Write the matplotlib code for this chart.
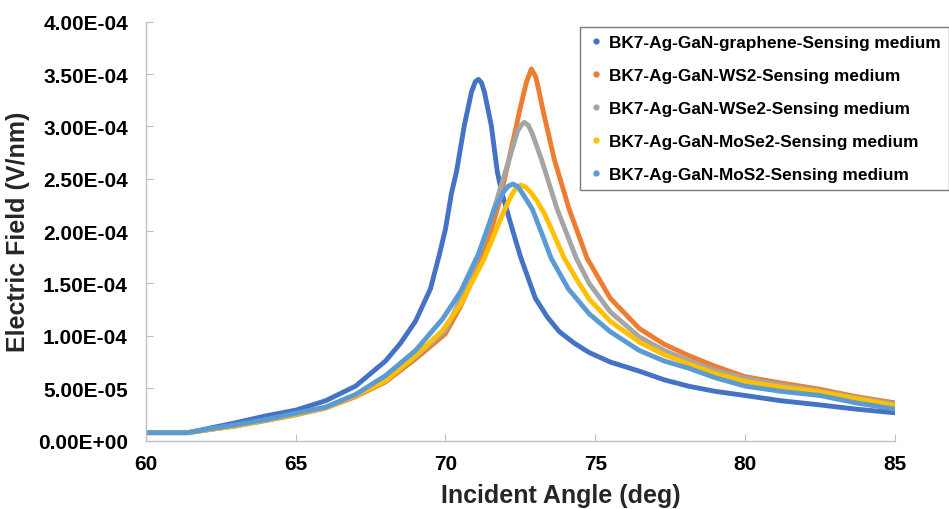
import numpy as np
import matplotlib.pyplot as plt
from matplotlib.lines import Line2D
from matplotlib.ticker import FuncFormatter

plt.rcParams['font.family'] = ['Liberation Sans', 'DejaVu Sans']
plt.rcParams['font.weight'] = 'bold'

# values, field in units of 1e-4 V/nm
scale = 1e-4

ang_gr = [60, 61.4, 62, 63, 64, 65, 66, 67, 68, 68.5, 69, 69.5, 69.8, 70.0, 70.2, 70.37, 70.63, 70.87,
          71.0, 71.1, 71.2, 71.3, 71.53, 71.73, 71.87, 72.2, 72.5, 73.0, 73.4, 73.8, 74.3, 74.8, 75.5, 76.5,
          77.3, 78.1, 79, 80, 81.2, 82.5, 83.7, 85]
ef_gr = [0.075, 0.075, 0.11, 0.17, 0.235, 0.29, 0.38, 0.52, 0.76, 0.93, 1.14, 1.45, 1.78, 2.02, 2.36, 2.57, 3.01, 3.33,
         3.43, 3.45, 3.42, 3.33, 3.01, 2.57, 2.38, 2.05, 1.76, 1.36, 1.18, 1.04, 0.93, 0.84, 0.75, 0.66,
         0.58, 0.52, 0.47, 0.43, 0.38, 0.34, 0.30, 0.265]

ang_ws2 = [60, 61.4, 62, 63, 64, 65, 66, 67, 68, 69, 70, 70.5, 71, 71.4, 71.8, 72.1, 72.37, 72.5, 72.7, 72.87,
           73.02, 73.15, 73.3, 73.63, 74.13, 74.73, 75.5, 76.47, 77.3, 78.13, 79, 80, 81.2, 82.5, 83.7, 85]
ef_ws2 = [0.075, 0.075, 0.10, 0.14, 0.19, 0.245, 0.31, 0.42, 0.56, 0.78, 1.02, 1.28, 1.60, 1.88, 2.28, 2.66, 3.01, 3.18, 3.42, 3.55,
          3.47, 3.30, 3.10, 2.69, 2.21, 1.74, 1.36, 1.07, 0.92, 0.81, 0.71, 0.61, 0.55, 0.49, 0.42, 0.36]

ang_wse2 = [60, 61.4, 62, 63, 64, 65, 66, 67, 68, 69, 70, 70.5, 71, 71.4, 71.8, 72.13, 72.4, 72.52, 72.63,
            72.77, 72.9, 73.2, 73.73, 74.37, 74.8, 75.5, 76.47, 77.3, 78.13, 79, 80, 81.2, 82.5, 83.7, 85]
ef_wse2 = [0.075, 0.075, 0.10, 0.14, 0.195, 0.25, 0.315, 0.43, 0.58, 0.80, 1.05, 1.35, 1.70, 2.00, 2.38, 2.69, 2.95, 3.01, 3.04,
           3.01, 2.93, 2.69, 2.21, 1.74, 1.50, 1.23, 0.99, 0.86, 0.76, 0.67, 0.595, 0.53, 0.475, 0.41, 0.35]

ang_mose2 = [60, 61.4, 62, 63, 64, 65, 66, 67, 68, 69, 69.9, 70.5, 71.3, 71.7, 72.0, 72.2, 72.35, 72.52,
             72.68, 72.85, 73.05, 73.3, 73.6, 73.97, 74.4, 74.8, 75.5, 76.47, 77.3, 78.13, 79, 80, 81.2, 82.5, 83.7, 85]
ef_mose2 = [0.075, 0.075, 0.10, 0.14, 0.195, 0.25, 0.315, 0.43, 0.57, 0.81, 1.05, 1.30, 1.74, 2.02, 2.22, 2.34, 2.41, 2.44,
            2.42, 2.37, 2.29, 2.17, 1.98, 1.74, 1.53, 1.35, 1.14, 0.94, 0.82, 0.73, 0.64, 0.565, 0.51, 0.465, 0.40, 0.335]

ang_mos2 = [60, 61.4, 62, 63, 64, 65, 66, 67, 68, 69, 69.9, 70.5, 71.1, 71.63, 71.95, 72.1, 72.25,
            72.4, 72.55, 72.9, 73.2, 73.53, 74.1, 74.8, 75.5, 76.47, 77.3, 78.13, 79, 80, 81.2, 82.5, 83.7, 85]
ef_mos2 = [0.075, 0.075, 0.105, 0.15, 0.20, 0.26, 0.32, 0.44, 0.62, 0.86, 1.16, 1.42, 1.78, 2.21, 2.38, 2.43, 2.45,
           2.43, 2.37, 2.21, 1.99, 1.74, 1.45, 1.21, 1.04, 0.86, 0.76, 0.69, 0.60, 0.52, 0.47, 0.43, 0.36, 0.30]

labels = ['BK7-Ag-GaN-graphene-Sensing medium', 'BK7-Ag-GaN-WS2-Sensing medium',
          'BK7-Ag-GaN-WSe2-Sensing medium', 'BK7-Ag-GaN-MoSe2-Sensing medium',
          'BK7-Ag-GaN-MoS2-Sensing medium']
colors = ['#4472C4', '#ED7D31', '#A5A5A5', '#FFC000', '#5B9BD5']

series = [(ang_gr, ef_gr), (ang_ws2, ef_ws2), (ang_wse2, ef_wse2),
          (ang_mose2, ef_mose2), (ang_mos2, ef_mos2)]

fig = plt.figure(figsize=(9.49, 5.10), dpi=100)
ax = fig.add_axes([0.1538, 0.1343, 0.789, 0.821])

for (a, e), c in zip(series, colors):
    ax.plot(a, np.array(e) * scale, color=c, linewidth=3.5, solid_joinstyle='round')

ax.set_xlim(60, 85)
ax.set_ylim(0, 4e-4)
ax.set_xticks([60, 65, 70, 75, 80, 85])
ax.set_yticks(np.arange(0, 4.01e-4, 0.5e-4))
ax.yaxis.set_major_formatter(FuncFormatter(lambda v, p: f"{v:.2E}"))

for s in ['top', 'right']:
    ax.spines[s].set_visible(False)
for s in ['left', 'bottom']:
    ax.spines[s].set_color('#BFBFBF')
    ax.spines[s].set_linewidth(1)
ax.tick_params(direction='in', length=5, color='#BFBFBF', labelsize=15)
ax.tick_params(axis='y', pad=13)
ax.tick_params(axis='x', pad=10)

ax.set_xlabel('Incident Angle (deg)', fontsize=18, fontweight='bold', color='#262626')
ax.xaxis.set_label_coords(0.554, -0.13)
ax.xaxis.label.set_verticalalignment('center')
ax.set_ylabel('Electric Field (V/nm)', fontsize=18, fontweight='bold', color='#262626', labelpad=6)

handles = [Line2D([], [], marker='o', markersize=3.5, linestyle='none', color=c) for c in colors]
fig.legend(handles, labels, loc='upper left', bbox_to_anchor=(580 / 949, 1 - 28 / 510),
           borderaxespad=0, frameon=True, fancybox=False, edgecolor='#595959', fontsize=12.4,
           handletextpad=0.25, labelspacing=1.05, borderpad=0.45, handlelength=1.0)

fig.savefig('out.png', dpi=100)
